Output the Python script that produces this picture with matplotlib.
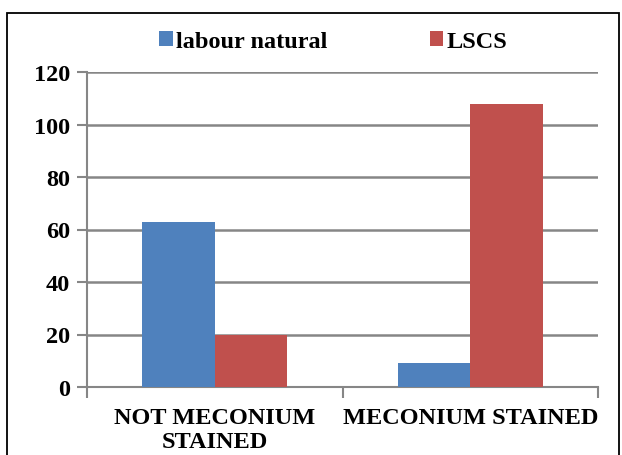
import matplotlib
matplotlib.use("Agg")
import matplotlib.pyplot as plt
import numpy as np
from matplotlib.patches import Rectangle

categories = ["NOT MECONIUM\nSTAINED", "MECONIUM STAINED"]
series_names = ["labour natural", "LSCS"]
labour_natural = [63, 9]
lscs = [20, 108]
yticks = [0, 20, 40, 60, 80, 100, 120]
colors = ["#4F81BD", "#C0504D"]

plt.rcParams['font.family'] = ['Liberation Serif', 'DejaVu Serif']
plt.rcParams['font.weight'] = 'bold'

fig = plt.figure(figsize=(6.22, 4.56), dpi=100)
ax = fig.add_axes([87/622, 1-388/456, (598-87)/622, (388-73)/456])

x = np.arange(len(categories))
w = 0.284
ax.bar(x - w/2, labour_natural, w, color=colors[0], label=series_names[0], zorder=3)
ax.bar(x + w/2, lscs, w, color=colors[1], label=series_names[1], zorder=3)

ax.set_xlim(-0.5, 1.5)
ax.set_ylim(0, 120)
ax.set_yticks(yticks)
ax.set_yticklabels([str(t) for t in yticks], fontsize=17.5, fontweight='bold')
ax.yaxis.grid(True, color='#868686', linewidth=1.8, zorder=0)
ax.set_axisbelow(True)

ax.set_xticks([-0.5, 0.5, 1.5])
ax.set_xticklabels([])
ax.tick_params(axis='x', length=8, width=1.5, color='#868686', direction='out')
ax.tick_params(axis='y', length=7, width=1.5, color='#868686', direction='out', pad=5)
for i, c in enumerate(categories):
    ax.text(x[i], -0.062, c, transform=ax.get_xaxis_transform(), ha='center', va='top',
            fontsize=17.5, fontweight='bold', linespacing=1.2)

for s in ['top', 'right']:
    ax.spines[s].set_visible(False)
for s in ['left', 'bottom']:
    ax.spines[s].set_color('#868686')
    ax.spines[s].set_linewidth(1.5)

leg = fig.legend(loc='upper center', bbox_to_anchor=(0.536, 0.977), ncol=2, frameon=False,
                 prop={'size': 17.5, 'weight': 'bold'}, handlelength=0.55, handleheight=0.55,
                 handletextpad=0.15, columnspacing=4.2)

fig.patches.append(Rectangle((7/622, -0.1), (619-7)/622, 1.1 - 14/456, transform=fig.transFigure,
                             fill=False, edgecolor='black', linewidth=1.3))

fig.savefig("out.png", dpi=100)
